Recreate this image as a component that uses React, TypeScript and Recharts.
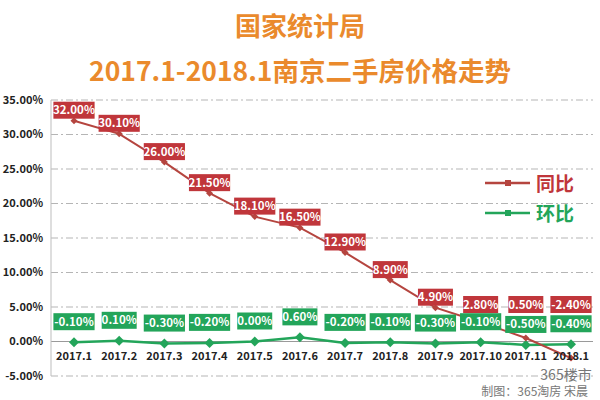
import { CartesianGrid, Line, LineChart, ReferenceLine, XAxis, YAxis } from "recharts"

const months = [
  "2017.1", "2017.2", "2017.3", "2017.4", "2017.5", "2017.6",
  "2017.7", "2017.8", "2017.9", "2017.10", "2017.11", "2018.1",
]
const yoy = [32.0, 30.1, 26.0, 21.5, 18.1, 16.5, 12.9, 8.9, 4.9, 2.8, 0.5, -2.4]
const mom = [-0.1, 0.1, -0.3, -0.2, 0.0, 0.6, -0.2, -0.1, -0.3, -0.1, -0.5, -0.4]
const yTicks = [-5, 0, 5, 10, 15, 20, 25, 30, 35]

const RED = "#c0363b"
const GREEN = "#23a55a"
const FONT = "'Noto Sans CJK SC', 'Open Sans', sans-serif"

const data = months.map((m, i) => ({ month: m, yoy: yoy[i], mom: mom[i] }))

function pct(v: number) {
  return `${v.toFixed(2)}%`
}

function BoxLabel({ x, y, value, boxColor, dy, cap }: any) {
  if (value == null) return null
  const text = pct(Number(value))
  const w = text.length * 6.2 + 4
  let cy = y + dy
  if (cap != null) cy = Math.min(cy, cap)
  return (
    <g>
      <rect x={x - w / 2} y={cy - 8} width={w} height={17} fill={boxColor} />
      <text
        x={x}
        y={cy + 4.5}
        textAnchor="middle"
        fill="#fff"
        fontSize={11.5}
        fontWeight={700}
        fontFamily={FONT}
      >
        {text}
      </text>
    </g>
  )
}

function MonthTick({ x, payload }: any) {
  return (
    <text x={x} y={360} textAnchor="middle" fill="#222" fontSize={11} fontWeight={700} fontFamily={FONT}>
      {payload.value}
    </text>
  )
}

function Diamond({ cx, cy, color, size }: any) {
  if (cx == null || cy == null) return null
  const s = size
  return <path d={`M${cx},${cy - s}L${cx + s},${cy}L${cx},${cy + s}L${cx - s},${cy}Z`} fill={color} />
}

export default function App() {
  return (
    <div style={{ position: "absolute", left: 0, top: 0, width: 600, height: 400, background: "#fff", fontFamily: FONT }}>
      <div style={{ position: "absolute", left: 0, top: 8, width: 600, textAlign: "center", color: "#ea8a2c", fontSize: 26, fontWeight: 700, lineHeight: "34px" }}>
        国家统计局
      </div>
      <div style={{ position: "absolute", left: 0, top: 52, width: 600, textAlign: "center", color: "#ea8a2c", fontSize: 26.5, fontWeight: 700, lineHeight: "36px" }}>
        2017.1-2018.1南京二手房价格走势
      </div>
      <LineChart width={600} height={400} data={data} margin={{ top: 100, right: 7, left: 0, bottom: 0 }}>
        <CartesianGrid stroke="#b5b5b5" strokeDasharray="7 3 2 3" vertical={false} />
        <XAxis
          dataKey="month"
          height={24}
          axisLine={false}
          tickLine={false}
          tick={<MonthTick />}
          interval={0}
          padding={{ left: 23, right: 22 }}
        />
        <YAxis
          width={51}
          domain={[-5, 35]}
          ticks={yTicks}
          tickFormatter={pct}
          axisLine={{ stroke: "#bdbdbd" }}
          tickLine={false}
          tick={{ fill: "#222", fontSize: 11, fontWeight: 700, fontFamily: FONT }}
        />
        <ReferenceLine y={0} stroke="#9a9a9a" />
        <Line
          dataKey="mom"
          stroke={GREEN}
          strokeWidth={2.5}
          dot={<Diamond color={GREEN} size={5} />}
          label={<BoxLabel boxColor={GREEN} dy={-21} />}
          isAnimationActive={false}
        />
        <Line
          dataKey="yoy"
          stroke="#b5453f"
          strokeWidth={2}
          dot={<Diamond color="#b5453f" size={3.5} />}
          label={<BoxLabel boxColor={RED} dy={-11} cap={304} />}
          isAnimationActive={false}
        />
      </LineChart>
      <svg style={{ position: "absolute", left: 0, top: 0 }} width={600} height={400}>
        <line x1={485} y1={183} x2={530} y2={183} stroke="#b5453f" strokeWidth={2.5} />
        <rect x={505} y={180} width={6} height={6} fill="#b5453f" />
        <text x={536} y={191} fill={RED} fontSize={19} fontWeight={700} fontFamily={FONT}>同比</text>
        <line x1={485} y1={213} x2={530} y2={213} stroke={GREEN} strokeWidth={2.5} />
        <rect x={505} y={210} width={6} height={6} fill={GREEN} />
        <text x={536} y={221} fill={GREEN} fontSize={19} fontWeight={700} fontFamily={FONT}>环比</text>
        <text x={566} y={380} textAnchor="middle" fill="#777" fontSize={14} fontFamily={FONT}>365楼市</text>
        <text x={588} y={396} textAnchor="end" fill="#777" fontSize={12} fontFamily={FONT}>制图：365淘房 宋晨</text>
      </svg>
    </div>
  )
}
